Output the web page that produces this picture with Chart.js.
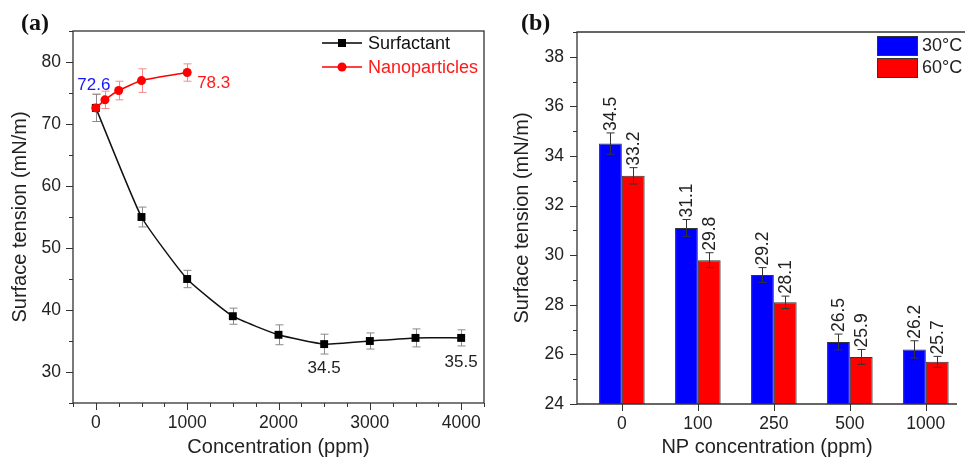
<!DOCTYPE html>
<html>
<head>
<meta charset="utf-8">
<script src="https://cdn.jsdelivr.net/npm/chart.js@4"></script>
<style>
  body { margin: 0; background: #fff; }
  #wrap { position: relative; width: 965px; height: 459px; }
  canvas { position: absolute; top: 0; }
</style>
</head>
<body>
<div id="wrap">
  <canvas id="tensionChart" width="490" height="459" style="left:0"></canvas>
  <canvas id="npChart" width="475" height="459" style="left:490px"></canvas>
</div>
<script>
// (a) surface tension vs concentration
const surfConc = [0, 500, 1000, 1500, 2000, 2500, 3000, 3500, 4000];
const surfTension = [72.6, 55.0, 45.0, 39.0, 36.0, 34.5, 35.0, 35.5, 35.5];
const surfErr = [2.2, 1.6, 1.4, 1.3, 1.6, 1.6, 1.3, 1.45, 1.3];

const npConc = [0, 100, 250, 500, 1000];
const npTension = [72.6, 73.9, 75.4, 77.0, 78.3];
const npErr = [2.2, 1.4, 1.5, 1.9, 1.4];

// (b) surface tension vs NP concentration at two temperatures
const npCats = ["0", "100", "250", "500", "1000"];
const tension30 = [34.5, 31.1, 29.2, 26.5, 26.2];
const tension60 = [33.2, 29.8, 28.1, 25.9, 25.7];
const err30 = [0.43, 0.34, 0.30, 0.32, 0.35];
const err60 = [0.33, 0.30, 0.25, 0.30, 0.22];

Chart.defaults.font.family = '"Liberation Sans", Arial, sans-serif';
Chart.defaults.font.size = 17.5;
Chart.defaults.color = "#222";

const AXIS = "#333";

function range(a, b, step) {
    const out = [];
    for (let v = a; v <= b + 1e-9; v += step) out.push(+v.toFixed(6));
    return out;
}

// box around the plot area plus outward tick marks (long = major, short = minor)
const frameTicks = {
    id: "frameTicks",
    afterDraw(chart, args, opts) {
        const { ctx, chartArea: ca, scales } = chart;
        ctx.save();
        ctx.strokeStyle = AXIS;
        ctx.lineWidth = 1.3;
        if (opts.openRight) {
            // panel runs off the right edge, so no right-hand border
            ctx.beginPath();
            ctx.moveTo(chart.width, ca.top);
            ctx.lineTo(ca.left, ca.top);
            ctx.lineTo(ca.left, ca.bottom);
            ctx.lineTo(ca.right, ca.bottom);
            ctx.stroke();
        } else {
            ctx.strokeRect(ca.left, ca.top, ca.right - ca.left, ca.bottom - ca.top);
        }
        ctx.lineWidth = 1;
        ctx.beginPath();
        scales.x.ticks.forEach(t => {
            const px = Math.round(scales.x.getPixelForValue(t.value)) + 0.5;
            const len = opts.xMajor(t.value) ? 7 : 4;
            ctx.moveTo(px, ca.bottom);
            ctx.lineTo(px, ca.bottom + len);
        });
        scales.y.ticks.forEach(t => {
            const py = Math.round(scales.y.getPixelForValue(t.value)) + 0.5;
            const len = opts.yMajor(t.value) ? 7 : 4;
            ctx.moveTo(ca.left, py);
            ctx.lineTo(ca.left - len, py);
        });
        ctx.stroke();
        ctx.restore();
    }
};

const panelTag = {
    id: "panelTag",
    afterDraw(chart, args, opts) {
        const ctx = chart.ctx;
        ctx.save();
        ctx.font = 'bold 24px "Liberation Serif", "Times New Roman", serif';
        ctx.fillStyle = "#111";
        ctx.textBaseline = "alphabetic";
        ctx.fillText(opts.text, opts.x, opts.y);
        ctx.restore();
    }
};

// vertical error bars with caps for the line chart
const lineErrors = {
    id: "lineErrors",
    beforeDatasetsDraw(chart) {
        const { ctx, scales: { y } } = chart;
        chart.data.datasets.forEach((ds, i) => {
            const meta = chart.getDatasetMeta(i);
            ctx.save();
            ctx.strokeStyle = ds.errorColor;
            ctx.lineWidth = 1;
            meta.data.forEach((pt, j) => {
                const v = ds.data[j].y, e = ds.errors[j];
                const x = Math.round(pt.x) + 0.5;
                const top = y.getPixelForValue(v + e), bot = y.getPixelForValue(v - e);
                ctx.beginPath();
                ctx.moveTo(x, top); ctx.lineTo(x, bot);
                ctx.moveTo(x - 4, top); ctx.lineTo(x + 4, top);
                ctx.moveTo(x - 4, bot); ctx.lineTo(x + 4, bot);
                ctx.stroke();
            });
            ctx.restore();
        });
    },
    afterDatasetsDraw(chart) {
        const { ctx, chartArea: ca } = chart;
        const surf = chart.getDatasetMeta(1).data;
        const np = chart.getDatasetMeta(0).data;
        ctx.save();
        ctx.font = '17px "Liberation Sans", Arial, sans-serif';
        ctx.textBaseline = "alphabetic";
        ctx.fillStyle = "#1515ff";
        ctx.textAlign = "center";
        ctx.fillText(npTension[0].toFixed(1), np[0].x - 2, np[0].y - 18);
        ctx.fillStyle = "#ff1a1a";
        ctx.textAlign = "left";
        const last = np.length - 1;
        ctx.fillText(npTension[last].toFixed(1), np[last].x + 10, np[last].y + 15);
        ctx.fillStyle = "#222";
        ctx.textAlign = "center";
        [5, 8].forEach(j => {
            ctx.fillText(surfTension[j].toFixed(1), surf[j].x, surf[j].y + 29);
        });

        // legend
        const lx = ca.right - 162;
        const rows = [
            { y: ca.top + 12, color: "#000", text: "#111", label: "Surfactant", style: "rect" },
            { y: ca.top + 36, color: "#ff0000", text: "#ff1a1a", label: "Nanoparticles", style: "circle" }
        ];
        ctx.font = '18px "Liberation Sans", Arial, sans-serif';
        ctx.textBaseline = "middle";
        ctx.textAlign = "left";
        rows.forEach(r => {
            ctx.strokeStyle = r.color;
            ctx.fillStyle = r.color;
            ctx.lineWidth = 1.5;
            ctx.beginPath();
            ctx.moveTo(lx, r.y); ctx.lineTo(lx + 40, r.y);
            ctx.stroke();
            if (r.style === "rect") {
                ctx.fillRect(lx + 16, r.y - 4, 8, 8);
            } else {
                ctx.beginPath();
                ctx.arc(lx + 20, r.y, 4.5, 0, Math.PI * 2);
                ctx.fill();
            }
            ctx.fillStyle = r.text;
            ctx.fillText(r.label, lx + 46, r.y + 1);
        });
        ctx.restore();
    }
};

new Chart(document.getElementById("tensionChart"), {
    type: "line",
    data: {
        datasets: [
            {
                label: "Nanoparticles",
                data: npConc.map((c, i) => ({ x: c, y: npTension[i] })),
                errors: npErr,
                errorColor: "#f38a8a",
                borderColor: "#ff0000",
                borderWidth: 1.5,
                pointStyle: "circle",
                pointRadius: 4.5,
                pointBackgroundColor: "#ff0000",
                pointBorderColor: "#ff0000",
                pointBorderWidth: 0,
                tension: 0.15,
                order: 0
            },
            {
                label: "Surfactant",
                data: surfConc.map((c, i) => ({ x: c, y: surfTension[i] })),
                errors: surfErr,
                errorColor: "#8a8a8a",
                borderColor: "#111",
                borderWidth: 1.5,
                pointStyle: "rect",
                pointRadius: 5.6,
                pointBackgroundColor: "#000",
                pointBorderColor: "#000",
                pointBorderWidth: 0,
                tension: 0.15,
                order: 1
            }
        ]
    },
    options: {
        responsive: false,
        animation: false,
        devicePixelRatio: 1,
        layout: { padding: { top: 31, right: 6, left: 0, bottom: 0 } },
        plugins: {
            legend: { display: false },
            tooltip: { enabled: false },
            frameTicks: { xMajor: v => v % 1000 === 0, yMajor: v => v % 10 === 0 },
            panelTag: { text: "(a)", x: 21, y: 30 }
        },
        scales: {
            x: {
                type: "linear",
                min: -250,
                max: 4250,
                afterBuildTicks: s => { s.ticks = range(-250, 4250, 250).map(v => ({ value: v })); },
                afterFit: s => { s.height = 56; },
                grid: { display: true, drawOnChartArea: false, drawTicks: true, tickLength: 7, color: "rgba(0,0,0,0)" },
                border: { display: false },
                ticks: {
                    autoSkip: false, maxRotation: 0, padding: 3,
                    callback: v => (v % 1000 === 0 && v >= 0 && v <= 4000) ? String(v) : ""
                },
                title: { display: true, text: "Concentration (ppm)", font: { size: 20 }, padding: { top: 0, bottom: 0 } }
            },
            y: {
                type: "linear",
                min: 25,
                max: 85,
                afterBuildTicks: s => { s.ticks = range(25, 85, 5).map(v => ({ value: v })); },
                afterFit: s => { s.width = 73; },
                grid: { display: true, drawOnChartArea: false, drawTicks: true, tickLength: 7, color: "rgba(0,0,0,0)" },
                border: { display: false },
                ticks: {
                    autoSkip: false, padding: 5,
                    callback: v => (v % 10 === 0 && v >= 30 && v <= 80) ? String(v) : ""
                },
                title: { display: true, text: "Surface tension (mN/m)", font: { size: 20 }, padding: { top: 8, bottom: 0 } }
            }
        }
    },
    plugins: [lineErrors, frameTicks, panelTag]
});

// error bars and rotated value labels on the grouped bars
const barErrors = {
    id: "barErrors",
    afterDatasetsDraw(chart) {
        const { ctx, scales: { y } } = chart;
        chart.data.datasets.forEach((ds, i) => {
            const meta = chart.getDatasetMeta(i);
            meta.data.forEach((bar, j) => {
                const v = ds.data[j].y, e = ds.errors[j];
                const x = Math.round(bar.x) + 0.5;
                const top = y.getPixelForValue(v + e), bot = y.getPixelForValue(v - e);
                ctx.save();
                ctx.strokeStyle = "#333";
                ctx.lineWidth = 1;
                ctx.beginPath();
                ctx.moveTo(x, top); ctx.lineTo(x, bot);
                ctx.moveTo(x - 4, top); ctx.lineTo(x + 4, top);
                ctx.moveTo(x - 4, bot); ctx.lineTo(x + 4, bot);
                ctx.stroke();
                ctx.translate(bar.x + 1, top - 2);
                ctx.rotate(-Math.PI / 2);
                ctx.font = '17.5px "Liberation Sans", Arial, sans-serif';
                ctx.fillStyle = "#222";
                ctx.textAlign = "left";
                ctx.textBaseline = "middle";
                ctx.fillText(v.toFixed(1), 0, 0);
                ctx.restore();
            });
        });

        // legend boxes
        const ca = chart.chartArea;
        const bx = ca.right - 80;
        ctx.save();
        ctx.font = '18px "Liberation Sans", Arial, sans-serif';
        ctx.textBaseline = "middle";
        ctx.textAlign = "left";
        chart.data.datasets.forEach((ds, i) => {
            const by = ca.top + 4 + i * 22;
            ctx.fillStyle = ds.backgroundColor;
            ctx.fillRect(bx, by, 40, 19);
            ctx.strokeStyle = "#333";
            ctx.lineWidth = 1;
            ctx.strokeRect(bx + 0.5, by + 0.5, 40, 19);
            ctx.fillStyle = "#222";
            ctx.fillText(ds.label, bx + 45, by + 10);
        });
        ctx.restore();
    }
};

new Chart(document.getElementById("npChart"), {
    type: "bar",
    data: {
        datasets: [
            {
                label: "30°C",
                data: npCats.map((c, i) => ({ x: i, y: tension30[i] })),
                errors: err30,
                backgroundColor: "#0000ff",
                borderColor: "#333",
                borderWidth: 1,
                categoryPercentage: 0.6,
                barPercentage: 1.0
            },
            {
                label: "60°C",
                data: npCats.map((c, i) => ({ x: i, y: tension60[i] })),
                errors: err60,
                backgroundColor: "#ff0000",
                borderColor: "#333",
                borderWidth: 1,
                categoryPercentage: 0.6,
                barPercentage: 1.0
            }
        ]
    },
    options: {
        responsive: false,
        animation: false,
        devicePixelRatio: 1,
        layout: { padding: { top: 32, right: 8, left: 0, bottom: 0 } },
        plugins: {
            legend: { display: false },
            tooltip: { enabled: false },
            frameTicks: { xMajor: () => true, yMajor: v => v % 2 === 0, openRight: true },
            panelTag: { text: "(b)", x: 31, y: 30 }
        },
        scales: {
            x: {
                type: "linear",
                offset: false,
                min: -0.59,
                max: 4.41,
                afterBuildTicks: s => { s.ticks = npCats.map((c, i) => ({ value: i })); },
                afterFit: s => { s.height = 55; },
                grid: { display: true, drawOnChartArea: false, drawTicks: true, tickLength: 7, color: "rgba(0,0,0,0)", offset: false },
                border: { display: false },
                ticks: { autoSkip: false, maxRotation: 0, padding: 3, callback: v => npCats[v] ?? "" },
                title: { display: true, text: "NP concentration (ppm)", font: { size: 20 }, padding: { top: 0, bottom: 0 } }
            },
            y: {
                type: "linear",
                min: 24,
                max: 39,
                afterBuildTicks: s => { s.ticks = range(24, 39, 1).map(v => ({ value: v })); },
                afterFit: s => { s.width = 87; },
                grid: { display: true, drawOnChartArea: false, drawTicks: true, tickLength: 7, color: "rgba(0,0,0,0)" },
                border: { display: false },
                ticks: { autoSkip: false, padding: 6, callback: v => (v % 2 === 0 && v <= 38) ? String(v) : "" },
                title: { display: true, text: "Surface tension (mN/m)", font: { size: 20 }, padding: { top: 20, bottom: 0 } }
            }
        }
    },
    plugins: [barErrors, frameTicks, panelTag]
});
</script>
</body>
</html>
